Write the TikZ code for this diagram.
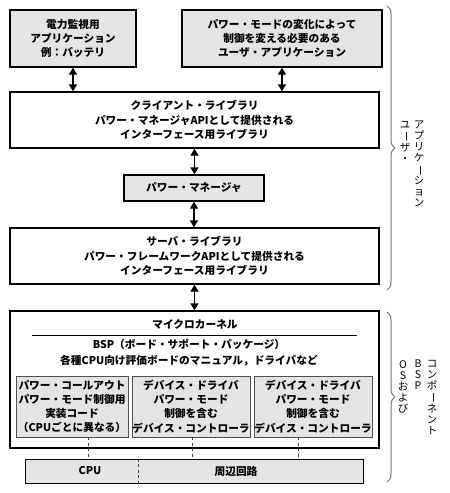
\documentclass[tikz,border=0pt]{standalone}
\usepackage{fontspec}
\usepackage{graphicx}
\setmainfont{Noto Sans CJK JP}
\usetikzlibrary{positioning, arrows.meta, calc, decorations.pathreplacing}

\newcommand{\vlong}{\rotatebox[origin=c]{-90}{ー}}

\begin{document}
\fontsize{10.7}{14.2}\selectfont\bfseries
\begin{tikzpicture}[
    x=1pt, y=-1pt,
    >={Triangle[length=7pt, width=8pt]},
    box/.style={
        rectangle,
        draw=black,
        fill=#1,
        line width=1.3pt,
        align=center,
        inner sep=0pt
    },
    inner/.style={
        rectangle,
        draw=edgegray,
        fill=boxgray,
        line width=0.9pt,
        align=center,
        inner sep=0pt,
        minimum height=61
    },
    dblarrow/.style={
        <->,
        line width=1.3pt
    },
    link/.style={
        draw=black!75,
        line width=0.8pt,
        dash pattern=on 3pt off 2.5pt
    },
    brace/.style={
        decorate,
        decoration={brace, amplitude=8pt},
        draw=bracegray,
        line width=1pt
    },
    vtext/.style={
        align=center,
        inner sep=0pt,
        anchor=north,
        font=\fontsize{10.5}{11}\selectfont\mdseries
    }
]

% Colors
\definecolor{boxgray}{HTML}{E4E4E4}
\definecolor{edgegray}{HTML}{505050}
\definecolor{bracegray}{HTML}{707070}

\useasboundingbox (0,0) rectangle (450,493);

% Applications
\node[box=boxgray, minimum width=126, minimum height=57] (App1) at (73,38.5) {電力監視用\\アプリケーション\\例：バッテリ};
\node[box=boxgray, minimum width=200, minimum height=57] (App2) at (282,38.5) {パワー・モードの変化によって\\制御を変える必要のある\\ユーザ・アプリケーション};

% Client library
\node[box=white, minimum width=369, minimum height=56] (Client) at (194.5,120) {クライアント・ライブラリ\\パワー・マネージャAPIとして提供される\\インターフェース用ライブラリ};

% Power manager
\node[box=boxgray, minimum width=140, minimum height=26] (Manager) at (194,188) {パワー・マネージャ};

% Server library
\node[box=white, minimum width=369, minimum height=56] (Server) at (194.5,256) {サーバ・ライブラリ\\パワー・フレームワークAPIとして提供される\\インターフェース用ライブラリ};

% Microkernel
\node[box=white, minimum width=369, minimum height=137] (Kernel) at (194.5,379.5) {};
\node (KTitle) at (195,324) {マイクロカーネル};
\draw[line width=0.7pt] ([xshift=23pt, yshift=-25pt]Kernel.north west) -- ([xshift=-23pt, yshift=-25pt]Kernel.north east);
\node[align=center] (BSP) at (189,352.5) {BSP（ボード・サポート・パッケージ）\\[2.5pt]各種CPU向け評価ボードのマニュアル，ドライバなど};

% Inner boxes
\node[inner, minimum width=112] (P1) at (72,406.5) {パワー・コールアウト\\パワー・モード制御用\\実装コード\\（CPUごとに異なる）};
\node[inner, minimum width=118] (P2) at (191,406.5) {デバイス・ドライバ\\パワー・モード\\制御を含む\\デバイス・コントローラ};
\node[inner, minimum width=118] (P3) at (313,406.5) {デバイス・ドライバ\\パワー・モード\\制御を含む\\デバイス・コントローラ};

% Hardware bar
\node[box=boxgray, minimum width=338, minimum height=24, line width=1pt] (Bar) at (194,471) {};
\coordinate (Div) at (138,471);
\draw[link] (Div |- Bar.north) -- (Div |- Bar.south);
\node (CPU) at (90,471) {CPU};
\node (Periph) at (236,471) {周辺回路};

% Arrows
\draw[dblarrow] (App1.south) -- (App1.south |- Client.north);
\draw[dblarrow] (App2.south) -- (App2.south |- Client.north);
\draw[dblarrow] (Client.south) -- (Client.south |- Manager.north);
\draw[dblarrow] (Manager.south) -- (Manager.south |- Server.north);
\draw[dblarrow] (Server.south) -- (Server.south |- Kernel.north);

% Dashed links
\draw[link] ([xshift=16pt]P1.south) -- ([xshift=16pt]P1.south |- Bar.north);
\draw[link] ([xshift=1pt]P2.south) -- ([xshift=1pt]P2.south |- Bar.north);
\draw[link] ([xshift=-15pt]P3.south) -- ([xshift=-15pt]P3.south |- Bar.north);

% Braces
\draw[brace] (387,6) -- (387,290);
\draw[brace] (387,312) -- (387,482);

% Side labels
\node[vtext] (UserA) at (405,121) {ユ\\\vlong\\ザ\\・};
\node[vtext] (UserB) at (419,121) {ア\\プ\\リ\\ケ\\\vlong\\シ\\ョ\\ン};
\node[vtext] (OsA) at (403,360) {O\\S\\お\\よ\\び};
\node[vtext] (OsB) at (418,360) {B\\S\\P};
\node[vtext] (OsC) at (432,360) {コ\\ン\\ポ\\\vlong\\ネ\\ン\\ト};

\end{tikzpicture}
\end{document}
